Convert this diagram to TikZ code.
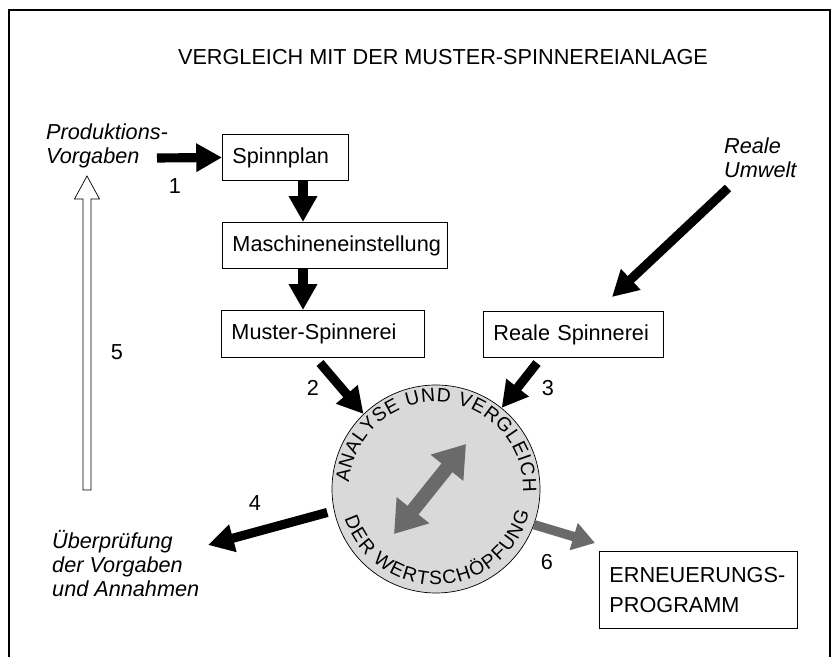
\documentclass[tikz,border=0pt]{standalone}
\usepackage{fontspec}
\setmainfont{Liberation Sans}
\usetikzlibrary{arrows.meta, calc, decorations.text, positioning}
\definecolor{HalftoneLight}{HTML}{D9D9D9}
\definecolor{HalftoneDark}{HTML}{6A6A6A}

\begin{document}
\begin{tikzpicture}[
    x=0.03cm, y=-0.03cm,
    every node/.style={font=\fontsize{18.5}{22}\selectfont},
    box/.style={draw, line width=0.8pt, anchor=north west, inner xsep=0.3cm, inner ysep=0pt, align=left},
    lbl/.style={font=\fontsize{18.5}{20.5}\selectfont\itshape, align=left, inner sep=0pt, anchor=west},
    num/.style={inner sep=0pt},
    bigarrow/.style={line width=7.8pt, -{Triangle[length=22pt, width=23pt]}},
    greyarrow/.style={line width=8pt, draw=HalftoneDark, -{Triangle[length=19pt, width=23pt]}},
    ringtext/.style={decorate, decoration={text along path, text align=fit to path,
        text={|\fontsize{16.5}{16.5}\selectfont|#1}}}
]
\useasboundingbox (0,0) rectangle (832,657);
\draw[line width=1.2pt] (9,662) -- (9,10) -- (830,10) -- (830,662);

\node (title) at (443,57) {VERGLEICH MIT DER MUSTER-SPINNEREIANLAGE};

% boxes
\node[box, text width=3.18cm, minimum height=1.38cm] (spinn) at (222,134) {Spinnplan};
\node[box, text width=6.15cm, minimum height=1.38cm] (masch) at (222,222) {Maschineneinstellung};
\node[box, text width=5.49cm, minimum height=1.41cm] (muster) at (221,310) {Muster-Spinnerei};
\node[box, text width=4.8cm, minimum height=1.38cm] (reale) at (483,311) {Reale Spinnerei};
\node[box, text width=5.34cm, minimum height=2.31cm, font=\fontsize{18.5}{25}\selectfont] (erneu) at (599,551) {ERNEUERUNGS-\\PROGRAMM};

% labels
\node[lbl] (prod) at (46,146) {Produktions-\\Vorgaben};
\node[lbl] (umwelt) at (724,158) {Reale\\Umwelt};
\node[lbl] (pruef) at (52,564) {Überprüfung\\der Vorgaben\\und Annahmen};

\node[num] (n1) at (175,186) {1};
\node[num] (n2) at (313,388) {2};
\node[num] (n3) at (548,388) {3};
\node[num] (n4) at (255,503) {4};
\node[num] (n5) at (117,352) {5};
\node[num] (n6) at (547,562) {6};

% circle
\node[circle, draw, line width=0.6pt, fill=HalftoneLight, minimum size=6.24cm] (ana) at (436,489) {};
\begin{scope}[shift={(ana.center)}, x=0.03cm, y=0.03cm]
\path[ringtext={ANALYSE UND VERGLEICH}] (176:87) arc[start angle=176, end angle=-2, radius=87];
\path[ringtext={DER WERTSCHÖPFUNG}] (198:96) arc[start angle=198, end angle=346, radius=96];
\end{scope}

% free ends
\coordinate (axis) at (303,0);
\coordinate (p1) at (157,158);
\coordinate (p2) at (320,363);
\coordinate (p3) at (537,363);
\coordinate (pu) at (728,188);
\coordinate (pu2) at (612,297);
\coordinate (p4) at (208,545);
\coordinate (p6) at (595,543);
\coordinate (dlo) at (394,534);
\coordinate (dhi) at (466,444);
\coordinate (otip) at (87,176);

% arrows
\draw[bigarrow] (p1) -- (spinn.west);
\draw[bigarrow] (axis |- spinn.south) -- (axis |- masch.north);
\draw[bigarrow] (axis |- masch.south) -- (axis |- muster.north);
\draw[bigarrow] (p2) -- (ana.134);
\draw[bigarrow] (p3) -- (ana.51);
\draw[bigarrow] (pu) -- (pu2);
\draw[bigarrow] ($(ana.193)+(-7,0)$) -- (p4);
\draw[greyarrow] (ana.-20) -- (p6);
\draw[line width=12pt, draw=HalftoneDark, {Triangle[length=26pt, width=34pt]}-{Triangle[length=26pt, width=34pt]}] (dlo) -- (dhi);
\draw[line width=0.6pt, fill=white] (otip) -- ++(12.5,23) -- ++(-8.5,0) -- (91,490) -- (83,490) -- (83,199) -- ++(-8.5,0) -- cycle;
\end{tikzpicture}
\end{document}
